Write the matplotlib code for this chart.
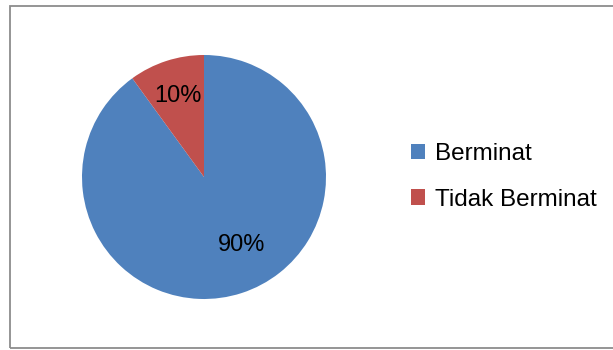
import matplotlib.pyplot as plt
from matplotlib.patches import Rectangle

label = ['Berminat', 'Tidak Berminat']
nilai = [90, 10]
c = ['#4F81BD', '#C0504D']

plt.rcParams['font.family'] = ['Liberation Sans', 'DejaVu Sans']

fig = plt.figure(figsize=(6.13, 3.5), dpi=100)
fig.patch.set_facecolor('white')

# bingkai chart
fig.patches.append(Rectangle((9.5 / 613, 2.5 / 350), 1.0, 342 / 350,
                             transform=fig.transFigure, fill=False,
                             edgecolor='#8c8c8c', linewidth=1.3))

ax = fig.add_axes([82 / 613, 51 / 350, 244 / 613, 244 / 350])
wedges, texts, autotexts = ax.pie(nilai, colors=c, startangle=90, counterclock=False,
                                  autopct='%d%%', pctdistance=0.7, radius=1,
                                  textprops={'fontsize': 17, 'color': 'black'})
autotexts[0].set_position((0.31, -0.56))
ax.set_xlim(-1, 1)
ax.set_ylim(-1, 1)
ax.axis('off')

fig.legend(wedges, label, loc='center left', bbox_to_anchor=(411 / 613, 1 - 177 / 350),
           frameon=False, fontsize=17.5, handlelength=0.58, handleheight=0.58,
           handletextpad=0.4, labelspacing=0.95, borderpad=0, borderaxespad=0)

plt.savefig('out.png', dpi=100)
